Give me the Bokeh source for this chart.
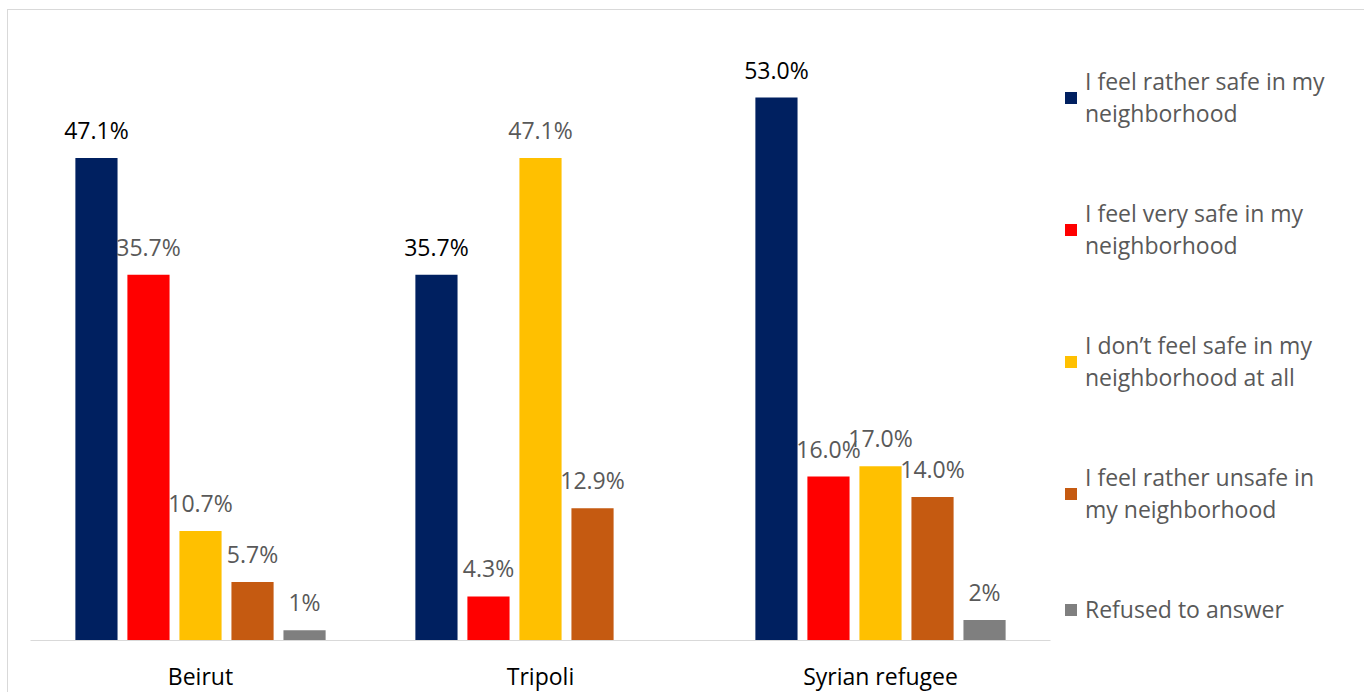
from bokeh.plotting import figure
from bokeh.models import ColumnDataSource, FactorRange, Range1d, Legend, LegendItem
from bokeh.transform import dodge
from bokeh.core.properties import value
from bokeh.embed import file_html
from bokeh.resources import INLINE

categories = ["Beirut", "Tripoli", "Syrian refugee"]
series_names = [
    "I feel rather safe in my\nneighborhood",
    "I feel very safe in my\nneighborhood",
    "I don\u2019t feel safe in my\nneighborhood at all",
    "I feel rather unsafe in\nmy neighborhood",
    "Refused to answer",
]
rather_safe = [47.1, 35.7, 53.0]
very_safe = [35.7, 4.3, 16.0]
not_safe_at_all = [10.7, 47.1, 17.0]
rather_unsafe = [5.7, 12.9, 14.0]
refused = [1, 0, 2]

colors = ["#002060", "#FF0000", "#FFC000", "#C55A11", "#7F7F7F"]
label_colors = ["#000000", "#595959", "#595959", "#595959", "#595959"]
offsets = [-0.306, -0.153, 0.0, 0.153, 0.306]
keys = ["s0", "s1", "s2", "s3", "s4"]
series_values = [rather_safe, very_safe, not_safe_at_all, rather_unsafe, refused]

data = {"cat": categories}
for i, (k, vals) in enumerate(zip(keys, series_values)):
    data[k] = vals
    if i < 4:
        data[k + "_lbl"] = [f"{v:.1f}%" if v > 0 else "" for v in vals]
    else:
        data[k + "_lbl"] = [f"{v:.0f}%" if v > 0 else "" for v in vals]
src = ColumnDataSource(data)

FONT = "Open Sans"
FS = "23px"

p = figure(
    x_range=FactorRange(*categories, range_padding=0),
    y_range=Range1d(0, 57.4),
    frame_width=1020, frame_height=588,
    output_backend="svg", toolbar_location=None,
    min_border_left=23, min_border_right=0, min_border_top=43, min_border_bottom=50,
)
p.x_range.range_padding = 0
p.outline_line_color = None
p.background_fill_color = "white"
p.border_fill_color = None
p.styles = {"box-shadow": "inset 1px 1px 0 #d9d9d9, inset -1px 0 0 #d9d9d9",
            "margin": "9px 0 0 7px"}
p.xgrid.visible = False
p.ygrid.visible = False
p.yaxis.visible = False

xa = p.xaxis[0]
xa.axis_line_color = "#d9d9d9"
xa.axis_line_width = 1
xa.major_tick_line_color = None
xa.minor_tick_line_color = None
xa.major_tick_out = 0
xa.major_tick_in = 0
xa.major_label_standoff = 19
xa.major_label_text_font = FONT
xa.major_label_text_font_size = FS
xa.major_label_text_color = "#000000"

items = []
for i, k in enumerate(keys):
    r = p.vbar(x=dodge("cat", offsets[i], range=p.x_range), top=k, width=0.124,
               source=src, fill_color=colors[i], line_color=None)
    p.text(x=dodge("cat", offsets[i], range=p.x_range), y=k, text=k + "_lbl",
           source=src, text_align="center", text_baseline="alphabetic",
           y_offset=-28, text_font=value(FONT), text_font_size=FS,
           text_color=label_colors[i])
    items.append(LegendItem(label=series_names[i], renderers=[r]))

legend = Legend(items=items, location="top_left")
legend.margin = 13
legend.padding = 0
legend.border_line_color = None
legend.background_fill_alpha = 0
legend.glyph_width = 15
legend.glyph_height = 15
legend.label_standoff = 7
legend.label_width = 258
legend.spacing = 68
legend.label_text_font = FONT
legend.label_text_font_size = FS
legend.label_text_color = "#595959"
legend.label_text_line_height = 1.45
p.add_layout(legend, "right")

open("out.html", "w").write(file_html(p, INLINE))
